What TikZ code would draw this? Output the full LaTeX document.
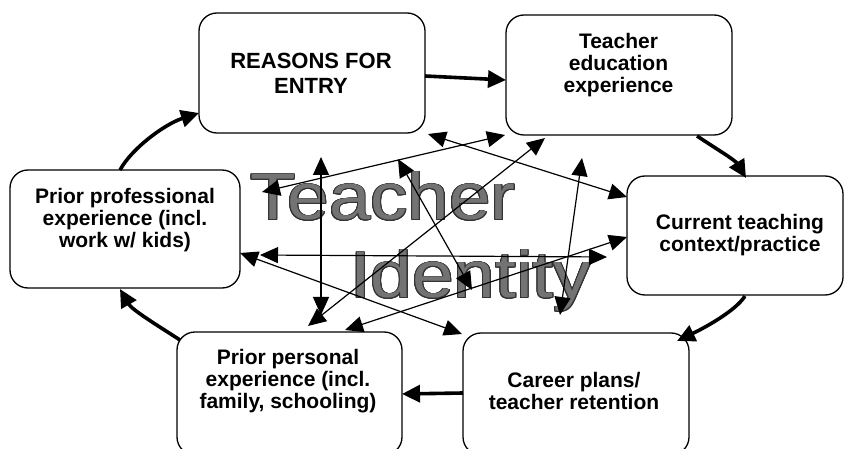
\documentclass[tikz,border=0pt]{standalone}
\usepackage{fontspec}
\setmainfont{Liberation Sans}
\usepackage{contour}
\usetikzlibrary{arrows.meta}
\contourlength{0.9pt}
\begin{document}
\begin{tikzpicture}[x=1pt,y=-1pt,
  box/.style={draw, line width=1.3pt, rounded corners=18pt, inner sep=0pt},
  lbl/.style={font=\bfseries\fontsize{21}{22.2}\selectfont, align=center, anchor=north, inner sep=0pt},
  bigtxt/.style={anchor=base west, inner sep=0pt, text=black!55, font=\fontsize{66}{66}\selectfont},
  twoway/.style={line width=1.2pt, {Triangle[length=18pt,width=16pt]}-{Triangle[length=18pt,width=16pt]}},
  cyc/.style={line width=3.6pt, -{Triangle[length=18pt,width=17pt]}},
]
\useasboundingbox (0,0) rectangle (844,449);

% big background words
\node[bigtxt] (wteacher) at (250,220) {\scalebox{1.13}[1]{\contour{black!80}{Teacher}}};
\node[bigtxt] (widentity) at (350,298) {\scalebox{1.13}[1]{\contour{black!80}{Identity}}};

% boxes
\node[box, minimum width=226pt, minimum height=120pt] (reasons) at (312,73) {};
\node[box, minimum width=226pt, minimum height=120pt] (teached) at (619,75) {};
\node[box, minimum width=230pt, minimum height=118pt] (prof) at (125,229) {};
\node[box, minimum width=216pt, minimum height=119pt] (current) at (735,235.5) {};
\node[box, minimum width=225pt, minimum height=123pt] (personal) at (289.5,393.5) {};
\node[box, minimum width=226pt, minimum height=122pt] (career) at (576,394) {};

% labels
\node[lbl, font=\bfseries\fontsize{22}{25}\selectfont] (reasonsT) at (311,53) {REASONS FOR\\ENTRY};
\node[lbl] (teachedT) at (618.5,33) {Teacher\\education\\experience};
\node[lbl] (profT) at (125,188) {Prior professional\\experience (incl.\\work w/ kids)};
\node[lbl] (currentT) at (740,214) {Current teaching\\context/practice};
\node[lbl] (personalT) at (288,349) {Prior personal\\experience (incl.\\family, schooling)};
\node[lbl] (careerT) at (574,372) {Career plans/\\teacher retention};

% cycle endpoints
\coordinate (c1s) at (120,170); \coordinate (c1e) at (199,113);
\coordinate (c2s) at (425,76);  \coordinate (c2e) at (506,80);
\coordinate (c3s) at (697,136); \coordinate (c3e) at (746,178);
\coordinate (c4s) at (745,296); \coordinate (c4e) at (677,341);
\coordinate (c5s) at (463,393); \coordinate (c5e) at (402,394);
\coordinate (c6s) at (180,340); \coordinate (c6e) at (120,289);

\draw[cyc] (c1s) .. controls (132,148) and (165,124) .. (c1e);
\draw[cyc] (c2s) -- (c2e);
\draw[cyc] (c3s) .. controls (715,148) and (735,160) .. (c3e);
\draw[cyc] (c4s) .. controls (735,312) and (700,330) .. (c4e);
\draw[cyc] (c5s) -- (c5e);
\draw[cyc] (c6s) .. controls (160,327) and (132,310) .. (c6e);

% inner two-way arrows
\coordinate (a1) at (428,134); \coordinate (a2) at (627,197);
\coordinate (b1) at (262,192); \coordinate (b2) at (505,135);
\coordinate (v1) at (321,157); \coordinate (v2) at (321,315);
\coordinate (d1) at (398,159); \coordinate (d2) at (472,290);
\coordinate (e1) at (308,326); \coordinate (e2) at (545,138);
\coordinate (f1) at (582,158); \coordinate (f2) at (560,315);
\coordinate (g1) at (260,255); \coordinate (g2) at (607,257);
\coordinate (h1) at (240,253); \coordinate (h2) at (462,334);
\coordinate (i1) at (345,330); \coordinate (i2) at (627,237);

\draw[twoway] (a1) -- (a2);
\draw[twoway] (b1) -- (b2);
\draw[twoway] (v1) -- (v2);
\draw[twoway] (d1) -- (d2);
\draw[twoway] (e1) -- (e2);
\draw[twoway] (f1) -- (f2);
\draw[twoway] (g1) -- (g2);
\draw[twoway] (h1) -- (h2);
\draw[twoway] (i1) -- (i2);
\end{tikzpicture}
\end{document}
